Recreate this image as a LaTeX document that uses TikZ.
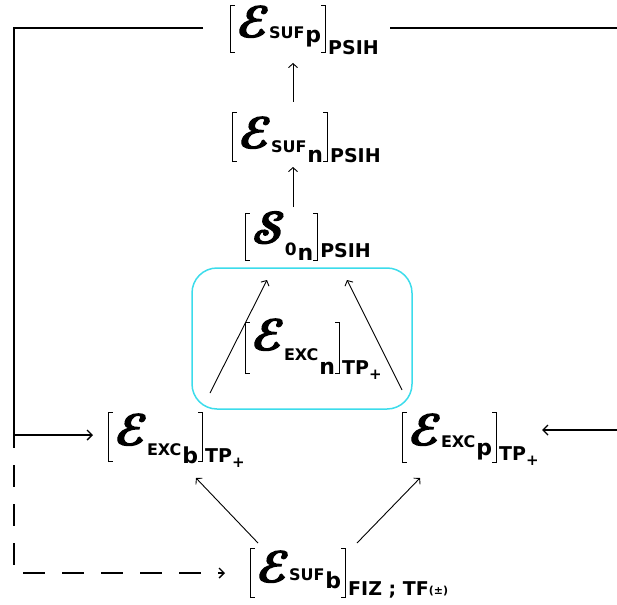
\documentclass[tikz,border=0pt]{standalone}
\usepackage{fontspec}
\newfontfamily\arb{DejaVu Sans}
\newfontfamily\scr{latinmodern-math.otf}[FakeBold=3]
\usetikzlibrary{arrows.meta,calc}
\definecolor{boxcyan}{RGB}{60,220,235}
\newcommand\LBk[2]{\makebox[7pt][l]{\rule[-#2pt]{1.2pt}{\dimexpr#1pt+#2pt\relax}\hspace{-1.2pt}\rule[-#2pt]{5pt}{1.2pt}\hspace{-5pt}\rule[\dimexpr#1pt-1.2pt\relax]{5pt}{1.2pt}}}
\newcommand\RBk[2]{\makebox[5pt][r]{\rule[-#2pt]{5pt}{1.2pt}\hspace{-5pt}\rule[\dimexpr#1pt-1.2pt\relax]{5pt}{1.2pt}\hspace{-1.2pt}\rule[-#2pt]{1.2pt}{\dimexpr#1pt+#2pt\relax}}}
\newcommand\Sym[1]{{\scr\fontsize{44}{44}\selectfont\symbol{#1}}}
\newcommand\SubA[2]{\raisebox{-#2pt}{\arb\bfseries\fontsize{16}{16}\selectfont #1}}
\newcommand\SubB[2]{\raisebox{-#2pt}{\arb\bfseries\fontsize{22}{22}\selectfont #1}}
\newcommand\SubC[2]{\hspace{2pt}\raisebox{-#2pt}{\arb\bfseries\fontsize{19}{19}\selectfont #1}}
\newcommand\TPp{TP\raisebox{-5pt}{\fontsize{15}{15}\selectfont+}}
\newcommand\Trm[9]{\LBk{#1}{#2}\hspace{1pt}\Sym{#3}\SubA{#4}{#5}\hspace{1pt}\SubB{#6}{#7}\RBk{#1}{#2}\SubC{#8}{#9}}
\begin{document}
\begin{tikzpicture}[x=1pt,y=-1pt,
  trm/.style={anchor=base west,inner sep=0pt,outer sep=0pt},
  fb/.style={line width=1.4pt},
  thin arrow/.style={line width=0.9pt,-{Straight Barb[length=4pt,width=9pt]}},
  fb arrow/.style={fb,-{Straight Barb[length=5pt,width=10pt]}},
  dsh/.style={fb,dash pattern=on 22pt off 17pt,dash phase=9pt,-{Straight Barb[length=5pt,width=10pt]}},
  cbox/.style={draw=boxcyan,line width=1.5pt,rounded corners=25pt,minimum width=220pt,minimum height=141pt,inner sep=0pt}]
\useasboundingbox (0,0) rectangle (617,604);
\node[cbox] (box) at (302,338.5) {};
\node[trm] (t1) at (230,37) {\Trm{32}{16}{"1D4D4}{SUF}{2}{p}{6}{PSIH}{18}};
\node[trm] (t2) at (232,148) {\Trm{36}{14}{"1D4D4}{SUF}{5}{n}{14}{PSIH}{14}};
\node[trm] (t3) at (245,243) {\Trm{30}{18}{"1D4E2}{\fontsize{17}{17}\selectfont 0}{12}{n}{17}{PSIH}{14}};
\node[trm] (t4) at (245,350) {\Trm{28}{24}{"1D4D4}{EXC}{10}{n}{24}{\TPp}{24}};
\node[trm] (t5) at (108,445) {\Trm{33}{17}{"1D4D4}{EXC}{10}{b}{18}{\TPp}{17}};
\node[trm] (t6) at (402,445) {\Trm{33}{18}{"1D4D4}{EXC}{2}{p}{10}{\TPp}{15}};
\node[trm] (t7) at (250,582) {\Trm{34}{16}{"1D4D4}{SUF}{-2}{b}{6}{FIZ ; TF\raisebox{1pt}{\fontsize{11}{11}\selectfont(±)}}{13}};
\coordinate (j) at (14,435);
\coordinate (r) at (640,28);
\draw[thin arrow] ($(t2.base west)+(61,-46)$) -- ($(t1.base west)+(63,26)$);
\draw[thin arrow] ($(t3.base west)+(48,-36)$) -- ($(t2.base west)+(61,19)$);
\draw[thin arrow] ($(t5.base west)+(102,-52)$) -- ($(t3.base west)+(22,37)$);
\draw[thin arrow] ($(t6.base west)+(0,-55)$) -- ($(t3.base west)+(102,37)$);
\draw[thin arrow] ($(t7.base west)+(8,-39)$) -- ($(t5.base west)+(88,33)$);
\draw[thin arrow] ($(t7.base west)+(107,-39)$) -- ($(t6.base west)+(18,33)$);
\draw[fb] ($(t1.base west)+(-27,-9)$) -| (j);
\draw[fb arrow] (j) -- ($(t5.base west)+(-15,-10)$);
\draw[dsh] (j) |- ($(t7.base west)+(-25,-9)$);
\draw[fb arrow] ($(t1.base west)+(160,-9)$) -- (r) |- ($(t6.base west)+(140,-15)$);
\end{tikzpicture}
\end{document}
